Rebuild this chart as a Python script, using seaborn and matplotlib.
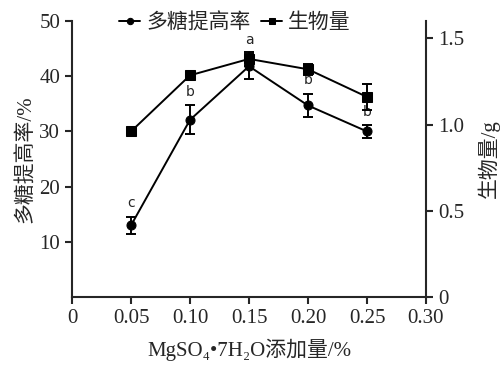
import pandas as pd
import matplotlib
matplotlib.use("Agg")
import matplotlib.pyplot as plt
import seaborn as sns

# data
dose = [0.05, 0.10, 0.15, 0.20, 0.25]
yield_rate = [13.0, 32.1, 41.8, 34.7, 30.0]      # 多糖提高率 (%)
yield_err = [1.6, 2.6, 2.3, 2.1, 1.1]
biomass = [0.96, 1.285, 1.38, 1.32, 1.16]        # 生物量 (g)
biomass_err = [0.01, 0.015, 0.04, 0.033, 0.077]
letters = ["c", "b", "a", "b", "b"]

sns.set_style("ticks")
plt.rcParams["font.family"] = ["Liberation Serif", "DejaVu Serif", "Noto Sans CJK SC"]
plt.rcParams["axes.linewidth"] = 1.5
plt.rcParams["xtick.major.width"] = 1.5
plt.rcParams["ytick.major.width"] = 1.5
plt.rcParams["xtick.major.size"] = 5
plt.rcParams["ytick.major.size"] = 5

df = pd.DataFrame({"dose": dose, "rate": yield_rate, "rate_err": yield_err,
                   "bio": biomass, "bio_err": biomass_err})

fig = plt.figure(figsize=(5, 3.67), dpi=100)
ax = fig.add_axes([0.144, 0.19, 0.708, 0.753])
ax2 = ax.twinx()

sns.lineplot(data=df, x="dose", y="rate", ax=ax, color="black", marker="o",
             markersize=6.5, linewidth=1.4, markeredgecolor="black", label="多糖提高率", legend=False)
ax.errorbar(df["dose"], df["rate"], yerr=df["rate_err"], fmt="none", ecolor="black",
            elinewidth=1.4, capsize=3.5, capthick=1.4)
sns.lineplot(data=df, x="dose", y="bio", ax=ax2, color="black", marker="s",
             markersize=6.5, linewidth=1.4, markeredgecolor="black", label="生物量", legend=False)
ax2.errorbar(df["dose"], df["bio"], yerr=df["bio_err"], fmt="none", ecolor="black",
             elinewidth=1.4, capsize=3.5, capthick=1.4)

for xv, yv, ev, lt in zip(dose, yield_rate, yield_err, letters):
    ax.text(xv, yv + ev + 1.2, lt, ha="center", va="bottom", fontsize=10,
            family="DejaVu Sans")

ax.set_xlim(0, 0.30)
ax.set_ylim(0, 50)
ax2.set_ylim(0, 1.6)
ax.set_xticks([0, 0.05, 0.10, 0.15, 0.20, 0.25, 0.30])
ax.set_xticklabels(["0", "0.05", "0.10", "0.15", "0.20", "0.25", "0.30"], fontsize=15)
ax.set_yticks([10, 20, 30, 40, 50])
ax.set_yticklabels(["10", "20", "30", "40", "50"], fontsize=15)
ax2.set_yticks([0, 0.5, 1.0, 1.5])
ax2.set_yticklabels(["0", "0.5", "1.0", "1.5"], fontsize=15)

ax.set_xlabel("MgSO₄•7H₂O添加量/%", fontsize=15, labelpad=8)
ax.set_ylabel("多糖提高率/%", fontsize=15, labelpad=2)
ax2.set_ylabel("生物量/g", fontsize=15, rotation=90, labelpad=10)

for a in (ax, ax2):
    a.spines["top"].set_visible(False)
ax.spines["right"].set_visible(False)
ax2.spines["left"].set_visible(False)
ax2.spines["bottom"].set_visible(False)

h1, l1 = ax.get_legend_handles_labels()
h2, l2 = ax2.get_legend_handles_labels()
fig.legend(h1 + h2, l1 + l2, loc="upper center", bbox_to_anchor=(0.47, 1.02), ncol=2,
           frameon=False, handlelength=1.0, handletextpad=0.3,
           columnspacing=0.5, markerscale=0.7,
           prop={"family": ["Noto Sans CJK SC"], "size": 15})

fig.savefig("out.png", dpi=100)
